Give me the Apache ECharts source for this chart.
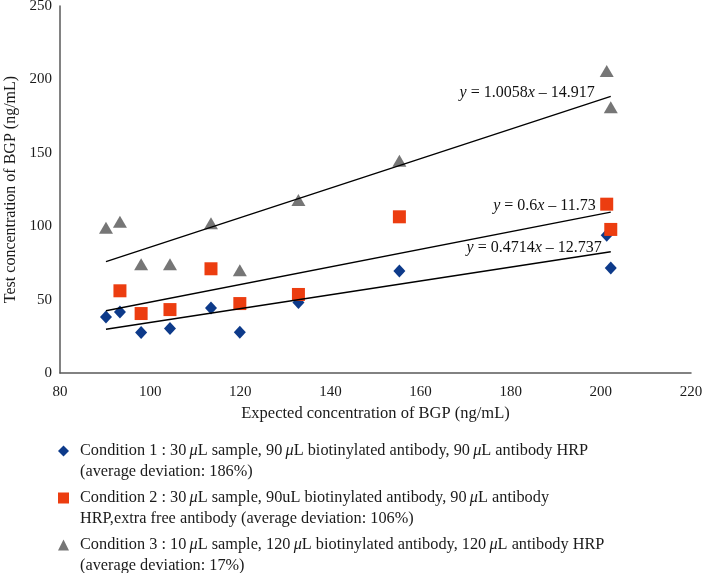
<!DOCTYPE html>
<html>
<head>
<meta charset="utf-8">
<script src="https://cdn.jsdelivr.net/npm/echarts@6/dist/echarts.min.js"></script>
<style>
html,body{margin:0;padding:0;background:#fff;}
#chart{width:702px;height:573px;}
</style>
</head>
<body>
<div id="chart"></div>
<script>
// ---- data ----
const expected = [90.2, 93.3, 98.0, 104.4, 113.5, 119.9, 132.9, 155.3, 201.3, 202.2];
const cond1 = [38.2, 41.6, 27.6, 30.3, 44.3, 27.8, 48.0, 69.4, 93.9, 71.6];
const cond2 = [null, 56.0, 40.5, 43.2, 71.0, 47.3, 53.5, 106.4, 115.0, 97.8];
const cond3 = [99.0, 103.0, 74.0, 74.0, 102.0, 70.0, 117.8, 144.6, 205.8, 181.0];

// trendline end points (as drawn)
const trend1 = [[90.2, 29.8], [202.2, 82.6]];
const trend2 = [[90.2, 42.4], [202.2, 109.6]];
const trend3 = [[90.2, 75.8], [202.2, 188.5]];
const equations = ['{i|y} = 0.4714{i|x} – 12.737', '{i|y} = 0.6{i|x} – 11.73', '{i|y} = 1.0058{i|x} – 14.917'];

const legendLines = [
  ['Condition 1 : 30\u2009μL sample, 90\u2009μL biotinylated antibody, 90\u2009μL antibody HRP', '(average deviation: 186%)'],
  ['Condition 2 : 30\u2009μL sample, 90uL biotinylated antibody, 90\u2009μL antibody', 'HRP,extra free antibody (average deviation: 106%)'],
  ['Condition 3 : 10\u2009μL sample, 120\u2009μL biotinylated antibody, 120\u2009μL antibody HRP', '(average deviation: 17%)']
];
const xTicks = {min: 80, max: 220, interval: 20};
const yTicks = {min: 0, max: 250, interval: 50};
const xTitle = 'Expected concentration of BGP (ng/mL)';
const yTitle = 'Test concentration of BGP (ng/mL)';

// ---- build ----
const FONT = 'Liberation Serif';
const names = legendLines.map(l => l.join(' '));
const pairs = arr => expected.map((x, i) => arr[i] == null ? null : [x, arr[i]]).filter(d => d);
const colors = ['#0d3a8a', '#ec3d10', '#767676'];
const symbols = ['diamond', 'rect', 'triangle'];
const sizes = [[12, 13], 13, [14, 12]];
const condData = [cond1, cond2, cond3];
const trends = [trend1, trend2, trend3];
const labelPos = [{distance: 9, offset: [0, -4]}, {distance: 15, offset: [0, -6]}, {distance: 16, offset: [0, -3]}];

const EQ_SIZE = 16;
const richEq = {i: {fontStyle: 'italic', fontFamily: FONT, fontSize: EQ_SIZE, color: '#111'}};

const series = [];
for (let k = 0; k < 3; k++) {
  series.push({
    name: names[k], type: 'scatter', data: pairs(condData[k]),
    symbol: symbols[k], symbolSize: sizes[k],
    itemStyle: {color: colors[k], opacity: 1}, z: 3 + k
  });
}
for (let k = 0; k < 3; k++) {
  const t = trends[k];
  series.push({
    type: 'line', data: [t[0], {value: t[1], label: {
      show: true, position: 'left', distance: labelPos[k].distance, offset: labelPos[k].offset,
      formatter: equations[k], fontFamily: FONT, fontSize: EQ_SIZE, color: '#111', rich: richEq
    }}],
    symbol: 'circle', symbolSize: 0, showSymbol: true,
    lineStyle: {color: '#000', width: 1.3}, z: 10, silent: true
  });
}

const LH = 21;
const chart = echarts.init(document.getElementById('chart'), null, {renderer: 'canvas'});
chart.setOption({
  animation: false,
  backgroundColor: '#fff',
  color: colors,
  grid: {left: 60, right: 11, top: 6, bottom: 200, containLabel: false, outerBoundsMode: 'none'},
  xAxis: {
    type: 'value', min: xTicks.min, max: xTicks.max, interval: xTicks.interval,
    name: xTitle, nameLocation: 'middle', nameGap: 30,
    nameTextStyle: {fontFamily: FONT, fontSize: 16.5, color: '#1a1a1a'},
    axisLine: {show: true, lineStyle: {color: '#595959', width: 1.5}},
    axisTick: {show: false}, splitLine: {show: false},
    axisLabel: {fontFamily: FONT, fontSize: 15, color: '#1a1a1a', margin: 12}
  },
  yAxis: {
    type: 'value', min: yTicks.min, max: yTicks.max, interval: yTicks.interval,
    name: yTitle, nameLocation: 'middle', nameGap: 36,
    nameTextStyle: {fontFamily: FONT, fontSize: 16, color: '#1a1a1a'},
    axisLine: {show: true, lineStyle: {color: '#595959', width: 1.5}},
    axisTick: {show: false}, splitLine: {show: false},
    axisLabel: {fontFamily: FONT, fontSize: 15, color: '#1a1a1a', margin: 8}
  },
  legend: {
    data: names, orient: 'vertical', left: 58, top: 419.5, height: 200, padding: 0,
    itemWidth: 11, itemHeight: 11, itemGap: -16,
    formatter: name => {
      const idx = names.indexOf(name);
      return legendLines[idx].map(s => s.replace(/μ/g, '{i|μ}')).join('\n');
    },
    textStyle: {
      fontFamily: FONT, fontSize: 16.3, color: '#1a1a1a', lineHeight: LH, padding: [LH, 0, 0, 6],
      rich: {i: {fontStyle: 'italic', fontFamily: FONT, fontSize: 16.3, lineHeight: LH, color: '#1a1a1a'}}
    },
    selectedMode: false
  },
  series: series
});
</script>
</body>
</html>
